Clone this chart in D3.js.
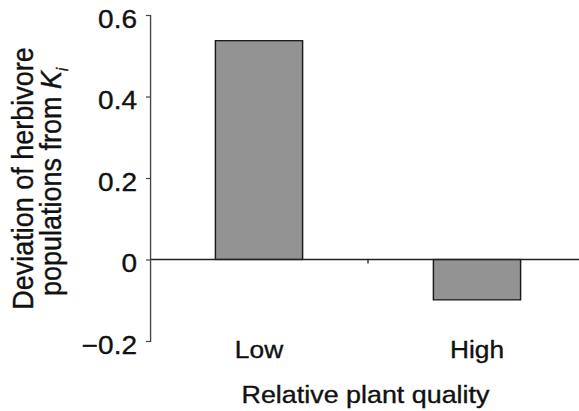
<!DOCTYPE html>
<html>
<head>
<meta charset="utf-8">
<script src="https://cdn.jsdelivr.net/npm/d3@7"></script>
<style>
  html, body { margin: 0; padding: 0; background: #fff; }
  svg { display: block; }
  text { font-family: "Liberation Sans", Arial, Helvetica, sans-serif; fill: #111; stroke: #111; stroke-width: 0.35px; }
</style>
</head>
<body>
<svg id="chart" width="579" height="411"></svg>
<script>
// ---- data ----
const categories = ["Low", "High"];
const values = [0.537, -0.099];
const yTickValues = [-0.2, 0, 0.2, 0.4, 0.6];
const yTickLabels = ["\u22120.2", "0", "0.2", "0.4", "0.6"];
const xTitle = "Relative plant quality";
const yTitleLine1 = "Deviation of herbivore";
const yTitleLine2 = "populations from ";

// ---- layout (the original is slightly stretched horizontally) ----
const W = 579, H = 411;
const sx = 1.12;
const innerW = W / sx;

const svg = d3.select("#chart");
const g = svg.append("g").attr("transform", `scale(${sx},1)`);

const axisX = 150 / sx;
const y = d3.scaleLinear().domain([-0.2, 0.6]).range([341, 15]);
const x = d3.scaleBand().domain(categories)
  .range([axisX, 586 / sx]).paddingInner(0.6).paddingOuter(0.3);

// bars
g.selectAll("rect.bar").data(categories).join("rect")
  .attr("class", "bar")
  .attr("x", d => x(d))
  .attr("width", x.bandwidth())
  .attr("y", (d, i) => y(Math.max(0, values[i])))
  .attr("height", (d, i) => Math.abs(y(values[i]) - y(0)))
  .attr("fill", "#939393")
  .attr("stroke", "#1a1a1a")
  .attr("stroke-width", 1.3);

// zero line
g.append("line")
  .attr("x1", axisX).attr("x2", innerW)
  .attr("y1", y(0)).attr("y2", y(0))
  .attr("stroke", "#222").attr("stroke-width", 1.4);

// category separator tick
const sepX = x("High") - x.step() * x.paddingInner() / 2;
g.append("line")
  .attr("x1", sepX).attr("x2", sepX)
  .attr("y1", y(0)).attr("y2", y(0) + 4)
  .attr("stroke", "#222").attr("stroke-width", 1.2);

// y axis
const yAxis = d3.axisLeft(y)
  .tickValues(yTickValues)
  .tickSize(3.6)
  .tickPadding(8)
  .tickFormat((d, i) => yTickLabels[i]);
const ya = g.append("g").attr("transform", `translate(${axisX},0)`).call(yAxis);
ya.attr("font-size", null).attr("font-family", null);
ya.select(".domain").attr("stroke", "#444").attr("stroke-width", 1.2);
ya.selectAll(".tick line").attr("stroke", "#444").attr("stroke-width", 1.2);
ya.selectAll(".tick text")
  .style("font-size", "25px")
  .attr("fill", "#111")
  .attr("dy", "0.48em");

// x category labels
g.selectAll("text.xlab").data(categories).join("text")
  .attr("class", "xlab")
  .attr("x", d => x(d) + x.bandwidth() / 2)
  .attr("y", 358)
  .attr("text-anchor", "middle")
  .style("font-size", "23.5px")
  .text(d => d);

// x title
g.append("text")
  .attr("x", 365.5 / sx)
  .attr("y", 403)
  .attr("text-anchor", "middle")
  .style("font-size", "24px")
  .text(xTitle);

// y title
g.append("text")
  .attr("transform", `translate(${32.5 / sx},178.5) rotate(-90)`)
  .attr("text-anchor", "middle")
  .style("font-size", "27px")
  .text(yTitleLine1);

const t2 = g.append("text")
  .attr("transform", `translate(${61 / sx},182) rotate(-90)`)
  .attr("text-anchor", "middle")
  .style("font-size", "27px");
t2.append("tspan").text(yTitleLine2);
t2.append("tspan").attr("font-style", "italic").text("K");
t2.append("tspan").attr("font-style", "italic").style("font-size", "14px").attr("dy", 6).text("i");
</script>
</body>
</html>
